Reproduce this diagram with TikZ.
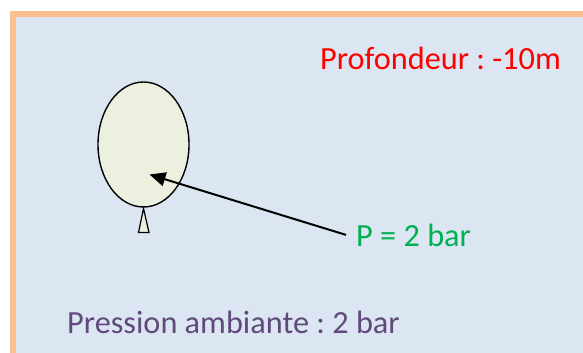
\documentclass[tikz,border=0pt]{standalone}
\usepackage{fontspec}
\setmainfont{Carlito}
\frenchspacing
\usetikzlibrary{arrows.meta,shapes.geometric}
\definecolor{water}{HTML}{DCE6F2}
\definecolor{frame}{HTML}{FAC090}
\definecolor{balloon}{HTML}{EBF1DE}
\definecolor{depthred}{HTML}{FF0000}
\definecolor{pgreen}{HTML}{00B050}
\definecolor{ambient}{HTML}{604A7B}
\begin{document}
\begin{tikzpicture}[x=1pt,y=-1pt,
  label/.style={font=\fontsize{32.3}{36}\selectfont, inner sep=0pt},
  envelope/.style={draw=black, line width=1.4pt, fill=balloon},
  pointer/.style={draw=black, line width=2pt, -{Triangle[length=16pt,width=14pt]}}]
  \useasboundingbox (0,0) rectangle (583,353);
  % water tank with its frame
  \fill[water] (13,14) rectangle (590,360);
  \draw[frame, line width=6pt] (13,360) -- (13,14) -- (590,14);
  % balloon and its neck
  \node[envelope, ellipse, minimum width=91pt, minimum height=125pt, inner sep=0pt] (ball) at (143.5,144.5) {};
  \draw[envelope, line width=1.2pt] (143.5,208.5) -- (149,232.5) -- (138.5,232.5) -- cycle;
  \coordinate (target) at (149.5,174.5);
  % labels
  \node[label, text=depthred, anchor=base west] (depth) at (320,69) {Profondeur : -10m};
  \node[label, text=pgreen, anchor=base west, inner xsep=10pt] (pin) at (346,246) {P = 2 bar};
  \node[label, text=ambient, anchor=base west] (amb) at (67,333) {Pression ambiante : 2 bar};
  % pressure pointer
  \draw[pointer] (pin.west) -- (target);
\end{tikzpicture}
\end{document}
